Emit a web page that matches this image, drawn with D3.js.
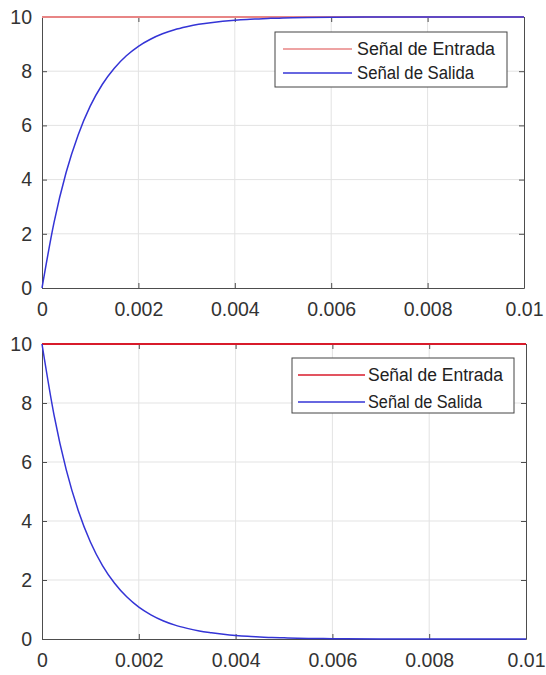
<!DOCTYPE html>
<html>
<head>
<meta charset="utf-8">
<script src="https://cdn.jsdelivr.net/npm/d3@7"></script>
<style>
  body { margin: 0; background: #fff; }
  svg { display: block; }
</style>
</head>
<body>
<svg id="chart" width="546" height="675"></svg>
<script>
// time samples (s)
const time = [0, 0.00025, 0.0005, 0.00075, 0.001, 0.00125, 0.0015, 0.00175, 0.002,
  0.00225, 0.0025, 0.00275, 0.003, 0.00325, 0.0035, 0.00375, 0.004, 0.00425,
  0.0045, 0.00475, 0.005, 0.0055, 0.006, 0.007, 0.008, 0.009, 0.01];

// top panel: step response rising
const entradaTop = [10, 10, 10, 10, 10, 10, 10, 10, 10, 10, 10, 10, 10, 10, 10, 10,
  10, 10, 10, 10, 10, 10, 10, 10, 10, 10, 10];
const salidaTop = [0, 2.42, 4.26, 5.65, 6.71, 7.51, 8.11, 8.57, 8.92, 9.18, 9.38,
  9.53, 9.64, 9.73, 9.79, 9.84, 9.88, 9.91, 9.93, 9.95, 9.96, 9.98, 9.99, 10, 10, 10, 10];

// bottom panel: decaying response
const entradaBottom = [10, 10, 10, 10, 10, 10, 10, 10, 10, 10, 10, 10, 10, 10, 10, 10,
  10, 10, 10, 10, 10, 10, 10, 10, 10, 10, 10];
const salidaBottom = [10, 7.58, 5.74, 4.35, 3.29, 2.49, 1.89, 1.43, 1.08, 0.82, 0.62,
  0.47, 0.36, 0.27, 0.21, 0.16, 0.12, 0.09, 0.07, 0.05, 0.04, 0.02, 0.01, 0, 0, 0, 0];

const xTicks = [0, 0.002, 0.004, 0.006, 0.008, 0.01];
const xTickLabels = ["0", "0.002", "0.004", "0.006", "0.008", "0.01"];
const yTicks = [0, 2, 4, 6, 8, 10];
const legendLabels = ["Señal de Entrada", "Señal de Salida"];

const svg = d3.select("#chart");
const blue = "#3434d6";

const panels = [
  { left: 42, right: 524, top: 17, bottom: 288, entrada: entradaTop, salida: salidaTop,
    redColor: "#e88585",
    legend: { x: 275, y: 32, w: 232, h: 55, lineX0: 283, lineX1: 352, textX: 357, row0: 17, gap: 24, textLen: [138, 117] } },
  { left: 42, right: 526, top: 344, bottom: 639, entrada: entradaBottom, salida: salidaBottom,
    redColor: "#d81b2b",
    legend: { x: 292, y: 358, w: 222, h: 55, lineX0: 298, lineX1: 365, textX: 368, row0: 17, gap: 27, textLen: [135, 114] } }
];

panels.forEach(p => {
  const x = d3.scaleLinear().domain([0, 0.01]).range([p.left, p.right]);
  const y = d3.scaleLinear().domain([0, 10]).range([p.bottom, p.top]);
  const g = svg.append("g");

  // grid
  g.selectAll(".gx").data(xTicks.slice(1, -1)).enter().append("line")
    .attr("x1", d => x(d)).attr("x2", d => x(d))
    .attr("y1", p.top).attr("y2", p.bottom)
    .attr("stroke", "#e3e3e3").attr("stroke-width", 1);
  g.selectAll(".gy").data(yTicks.slice(1, -1)).enter().append("line")
    .attr("x1", p.left).attr("x2", p.right)
    .attr("y1", d => y(d)).attr("y2", d => y(d))
    .attr("stroke", "#e3e3e3").attr("stroke-width", 1);

  // axes with inward ticks on all four sides
  const fmt = (d, i) => xTickLabels[i];
  g.append("g").attr("transform", `translate(0,${p.bottom})`)
    .call(d3.axisBottom(x).tickValues(xTicks).tickFormat(fmt).tickSizeInner(-5).tickSizeOuter(0).tickPadding(14));
  g.append("g").attr("transform", `translate(0,${p.top})`)
    .call(d3.axisTop(x).tickValues(xTicks).tickFormat("").tickSizeInner(-5).tickSizeOuter(0));
  g.append("g").attr("transform", `translate(${p.left},0)`)
    .call(d3.axisLeft(y).tickValues(yTicks).tickSizeInner(-5).tickSizeOuter(0).tickPadding(10));
  g.append("g").attr("transform", `translate(${p.right},0)`)
    .call(d3.axisRight(y).tickValues(yTicks).tickFormat("").tickSizeInner(-5).tickSizeOuter(0));

  g.selectAll(".domain").attr("stroke", "#4d4d4d");
  g.selectAll(".tick line").attr("stroke", "#4d4d4d");
  g.selectAll(".tick text")
    .attr("font-family", "Liberation Sans, Arial, sans-serif")
    .attr("font-size", 19.5).attr("fill", "#333");

  const line = d3.line().x((d, i) => x(time[i])).y(d => y(d)).curve(d3.curveMonotoneX);
  g.append("path").datum(p.entrada).attr("d", line)
    .attr("fill", "none").attr("stroke", p.redColor).attr("stroke-width", 2);
  g.append("path").datum(p.salida).attr("d", line)
    .attr("fill", "none").attr("stroke", blue).attr("stroke-width", 1.5);

  // legend
  const L = p.legend;
  const lg = g.append("g");
  lg.append("rect").attr("x", L.x).attr("y", L.y).attr("width", L.w).attr("height", L.h)
    .attr("fill", "#fff").attr("stroke", "#444").attr("stroke-width", 1);
  [p.redColor, blue].forEach((c, i) => {
    const ly = L.y + L.row0 + i * L.gap;
    lg.append("line").attr("x1", L.lineX0).attr("x2", L.lineX1).attr("y1", ly).attr("y2", ly)
      .attr("stroke", c).attr("stroke-width", 1.5);
    lg.append("text").attr("x", L.textX).attr("y", ly + 6).text(legendLabels[i])
      .attr("font-family", "Liberation Sans, Arial, sans-serif")
      .attr("font-size", 18).attr("fill", "#222")
      .attr("textLength", L.textLen[i]).attr("lengthAdjust", "spacingAndGlyphs");
  });
});
</script>
</body>
</html>
